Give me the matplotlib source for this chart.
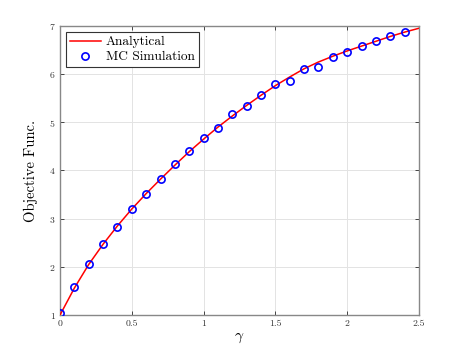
import numpy as np
import matplotlib
matplotlib.use('Agg')
import matplotlib.pyplot as plt

# Dữ liệu
gamma_line = [0.0, 0.1, 0.2, 0.3, 0.4, 0.5, 0.6, 0.7, 0.8, 0.9, 1.0, 1.1, 1.2,
              1.3, 1.4, 1.5, 1.6, 1.7, 1.8, 1.9, 2.0, 2.1, 2.2, 2.3, 2.4, 2.5]
analytical = [1.00, 1.56, 2.05, 2.47, 2.85, 3.20, 3.52, 3.82, 4.11, 4.39, 4.65,
              4.90, 5.13, 5.35, 5.56, 5.76, 5.94, 6.11, 6.25, 6.37, 6.48, 6.58,
              6.68, 6.78, 6.87, 6.95]

gamma_mc = [0.0, 0.1, 0.2, 0.3, 0.4, 0.5, 0.6, 0.7, 0.8, 0.9, 1.0, 1.1, 1.2,
            1.3, 1.4, 1.5, 1.6, 1.7, 1.8, 1.9, 2.0, 2.1, 2.2, 2.3, 2.4]
mc_sim = [1.05, 1.59, 2.05, 2.47, 2.83, 3.21, 3.52, 3.83, 4.14, 4.40, 4.68,
          4.88, 5.18, 5.34, 5.56, 5.79, 5.86, 6.10, 6.15, 6.35, 6.46, 6.59,
          6.68, 6.78, 6.87]

x_ticks = [0, 0.5, 1, 1.5, 2, 2.5]
x_tick_labels = ['0', '0.5', '1', '1.5', '2', '2.5']
y_ticks = [1, 2, 3, 4, 5, 6, 7]

plt.rcParams['font.family'] = 'serif'
plt.rcParams['font.serif'] = ['cmr10', 'DejaVu Serif']
plt.rcParams['mathtext.fontset'] = 'cm'
plt.rcParams['axes.formatter.use_mathtext'] = True

fig = plt.figure(figsize=(4.63, 3.54), dpi=100)
ax = fig.add_axes([0.1296, 0.110, 0.7754, 0.817])

ax.plot(gamma_line, analytical, color='red', linewidth=1.1, label='Analytical', zorder=3)
ax.plot(gamma_mc, mc_sim, linestyle='none', marker='o', markersize=5.2,
        markerfacecolor='none', markeredgecolor='blue', markeredgewidth=1.2,
        label='MC Simulation', zorder=4)

ax.set_xlim(0, 2.5)
ax.set_ylim(1, 7)
ax.set_xticks(x_ticks)
ax.set_xticklabels(x_tick_labels)
ax.set_yticks(y_ticks)

ax.grid(True, color='#e3e3e3', linewidth=0.7)
ax.set_axisbelow(True)
for s in ax.spines.values():
    s.set_color('#888888')
    s.set_linewidth(1.0)
ax.tick_params(direction='in', top=True, right=True, length=3, width=0.7,
               color='#444444', labelsize=7, labelcolor='#333333', pad=3)

ax.set_xlabel(r'$\gamma$', fontsize=11, labelpad=2)
ax.set_ylabel('Objective Func.', fontsize=10.5, labelpad=8)

leg = ax.legend(loc='upper left', fontsize=9.6, frameon=True, fancybox=False,
                edgecolor='#333333', framealpha=1, borderpad=0.3,
                handlelength=2.3, handletextpad=0.4, labelspacing=0.2,
                bbox_to_anchor=(0.0, 1.0), borderaxespad=0.45)
leg.get_frame().set_linewidth(0.8)

plt.savefig('out.png', dpi=100)
